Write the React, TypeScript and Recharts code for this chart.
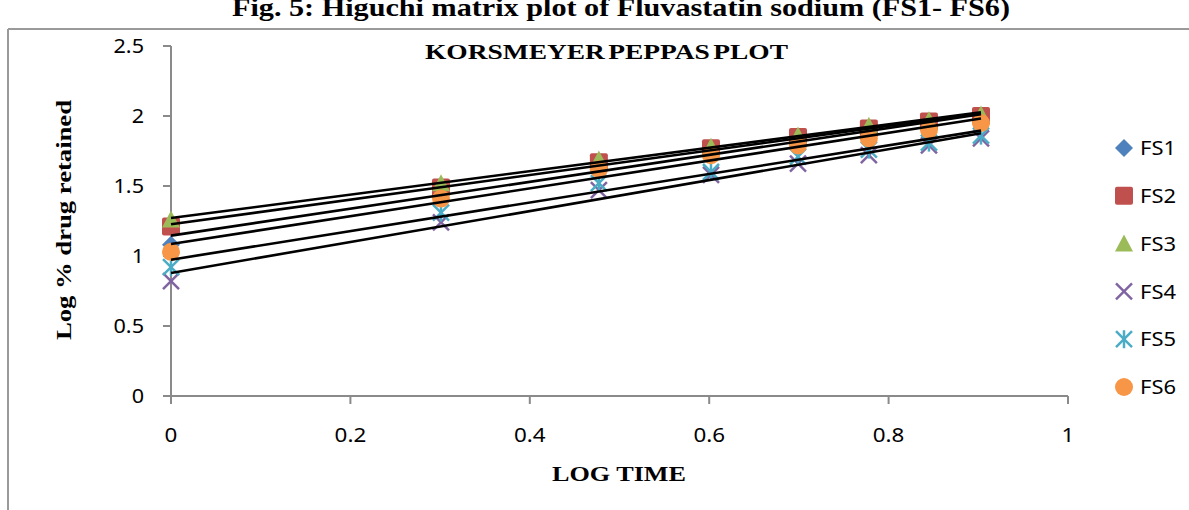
import React from 'react';
import { ScatterChart, Scatter, XAxis, YAxis } from 'recharts';

// log time points (x) shared by all formulations
const logTime = [0, 0.301, 0.477, 0.602, 0.699, 0.778, 0.845, 0.903];

// log % drug retained per formulation
const fs1 = [1.08, 1.47, 1.67, 1.76, 1.83, 1.88, 1.93, 1.97];
const fs2 = [1.21, 1.49, 1.67, 1.77, 1.85, 1.91, 1.96, 2.0];
const fs3 = [1.26, 1.52, 1.69, 1.78, 1.86, 1.93, 1.97, 2.01];
const fs4 = [0.82, 1.24, 1.47, 1.58, 1.66, 1.72, 1.79, 1.84];
const fs5 = [0.92, 1.31, 1.52, 1.6, 1.71, 1.76, 1.81, 1.86];
const fs6 = [1.03, 1.41, 1.62, 1.72, 1.79, 1.84, 1.9, 1.95];

const seriesNames = ['FS1', 'FS2', 'FS3', 'FS4', 'FS5', 'FS6'];
const xTicks = [0, 0.2, 0.4, 0.6, 0.8, 1];
const yTicks = [0, 0.5, 1, 1.5, 2, 2.5];

const figTitle = 'Fig. 5: Higuchi matrix plot of Fluvastatin sodium (FS1- FS6)';
const plotTitle = 'KORSMEYER PEPPAS PLOT';
const xTitle = 'LOG TIME';
const yTitle = 'Log % drug retained';

type Kind = 'diamond' | 'square' | 'triangle' | 'x' | 'star' | 'circle';

const series: { name: string; values: number[]; color: string; kind: Kind }[] = [
  { name: seriesNames[0], values: fs1, color: '#4F81BD', kind: 'diamond' },
  { name: seriesNames[1], values: fs2, color: '#C0504D', kind: 'square' },
  { name: seriesNames[2], values: fs3, color: '#9BBB59', kind: 'triangle' },
  { name: seriesNames[3], values: fs4, color: '#8064A2', kind: 'x' },
  { name: seriesNames[4], values: fs5, color: '#4BACC6', kind: 'star' },
  { name: seriesNames[5], values: fs6, color: '#F79646', kind: 'circle' },
];

const toPoints = (ys: number[]) => ys.map((y, i) => ({ x: logTime[i], y }));

// least squares trendline, like the excel linear trendline
const trend = (ys: number[]) => {
  const n = ys.length;
  const mx = logTime.reduce((a, b) => a + b, 0) / n;
  const my = ys.reduce((a, b) => a + b, 0) / n;
  let sxy = 0;
  let sxx = 0;
  for (let i = 0; i < n; i++) {
    sxy += (logTime[i] - mx) * (ys[i] - my);
    sxx += (logTime[i] - mx) * (logTime[i] - mx);
  }
  const b = sxy / sxx;
  const a = my - b * mx;
  const x0 = logTime[0];
  const x1 = logTime[n - 1];
  return [
    { x: x0, y: a + b * x0 },
    { x: x1, y: a + b * x1 },
  ];
};

const Marker = ({ kind, cx, cy, color }: { kind: Kind; cx: number; cy: number; color: string }) => {
  const s = 9;
  switch (kind) {
    case 'diamond':
      return <polygon points={`${cx},${cy - s} ${cx + s},${cy} ${cx},${cy + s} ${cx - s},${cy}`} fill={color} />;
    case 'square':
      return <rect x={cx - s} y={cy - s} width={s * 2} height={s * 2} rx={2} fill={color} />;
    case 'triangle':
      return <polygon points={`${cx},${cy - s} ${cx + s},${cy + s - 1} ${cx - s},${cy + s - 1}`} fill={color} />;
    case 'x':
      return (
        <g stroke={color} strokeWidth={2.5}>
          <line x1={cx - 8} y1={cy - 8} x2={cx + 8} y2={cy + 8} />
          <line x1={cx - 8} y1={cy + 8} x2={cx + 8} y2={cy - 8} />
        </g>
      );
    case 'star':
      return (
        <g stroke={color} strokeWidth={2.5}>
          <line x1={cx - 8} y1={cy - 8} x2={cx + 8} y2={cy + 8} />
          <line x1={cx - 8} y1={cy + 8} x2={cx + 8} y2={cy - 8} />
          <line x1={cx} y1={cy - 9} x2={cx} y2={cy + 9} />
        </g>
      );
    default:
      return <circle cx={cx} cy={cy} r={s} fill={color} />;
  }
};

const sansFont = '"Noto Sans", sans-serif';
const serifBold = { fontFamily: '"Liberation Serif", "Times New Roman", serif', fontWeight: 700 };

// the source picture is a little stretched sideways, so tick text is widened
const XTick = ({ x, y, payload }: any) => (
  <text transform={`translate(${x},${y}) scale(1.12,1)`} textAnchor="middle" dy="0.71em" fill="#000" fontSize={20} fontFamily={sansFont}>
    {payload.value}
  </text>
);

const YTick = ({ x, y, payload }: any) => (
  <text transform={`translate(${x},${y}) scale(1.08,1)`} textAnchor="end" dy="0.355em" fill="#000" fontSize={20} fontFamily={sansFont}>
    {payload.value}
  </text>
);

const App = () => {
  return (
    <div style={{ position: 'absolute', left: 0, top: 0, width: 1189, height: 510, background: '#fff' }}>
      <ScatterChart width={1189} height={510} margin={{ top: 46, right: 121, bottom: 54, left: 71 }}>
        <XAxis
          type="number"
          dataKey="x"
          domain={[0, 1]}
          ticks={xTicks}
          height={60}
          axisLine={{ stroke: '#8a8a8a', strokeWidth: 2 }}
          tickLine={{ stroke: '#8a8a8a', strokeWidth: 2 }}
          tickSize={8}
          tickMargin={24}
          tick={<XTick />}
        />
        <YAxis
          type="number"
          dataKey="y"
          domain={[0, 2.5]}
          ticks={yTicks}
          width={100}
          axisLine={{ stroke: '#8a8a8a', strokeWidth: 2 }}
          tickLine={{ stroke: '#8a8a8a', strokeWidth: 2 }}
          tickSize={8}
          tickMargin={19}
          tick={<YTick />}
        />
        {series.map((s) => (
          <Scatter
            key={s.name}
            name={s.name}
            data={toPoints(s.values)}
            isAnimationActive={false}
            shape={(p: any) => <Marker kind={s.kind} cx={p.cx} cy={p.cy} color={s.color} />}
          />
        ))}
        {series.map((s) => (
          <Scatter
            key={s.name + '-trend'}
            name={s.name + ' trend'}
            data={trend(s.values)}
            isAnimationActive={false}
            legendType="none"
            line={{ stroke: '#000', strokeWidth: 2.6 }}
            shape={() => <g />}
          />
        ))}
      </ScatterChart>
      <svg width={1189} height={510} style={{ position: 'absolute', left: 0, top: 0, pointerEvents: 'none' }}>
        <line x1={8} y1={29} x2={1189} y2={29} stroke="#9a9a9a" strokeWidth={2} />
        <line x1={8} y1={29} x2={8} y2={510} stroke="#9a9a9a" strokeWidth={2} />
        <text x={232} y={16} fontSize={26} textLength={778} lengthAdjust="spacingAndGlyphs" {...serifBold}>
          {figTitle}
        </text>
        <text x={425} y={59} fontSize={20} wordSpacing={-2.5} textLength={363} lengthAdjust="spacingAndGlyphs" {...serifBold}>
          {plotTitle}
        </text>
        <text x={552} y={481} fontSize={22} textLength={134} lengthAdjust="spacingAndGlyphs" {...serifBold}>
          {xTitle}
        </text>
        <text
          x={0}
          y={0}
          transform="translate(71 340) rotate(-90)"
          fontSize={22}
          textLength={240}
          lengthAdjust="spacingAndGlyphs"
          {...serifBold}
        >
          {yTitle}
        </text>
        {/* legend */}
        {series.map((s, i) => (
          <g key={s.name}>
            <Marker kind={s.kind} cx={1124} cy={148 + i * 47.8} color={s.color} />
            <text x={1140} y={148 + i * 47.8} dy="0.355em" fontSize={20} fontFamily={sansFont} textLength={36} lengthAdjust="spacingAndGlyphs">
              {s.name}
            </text>
          </g>
        ))}
      </svg>
    </div>
  );
};

export default App;
